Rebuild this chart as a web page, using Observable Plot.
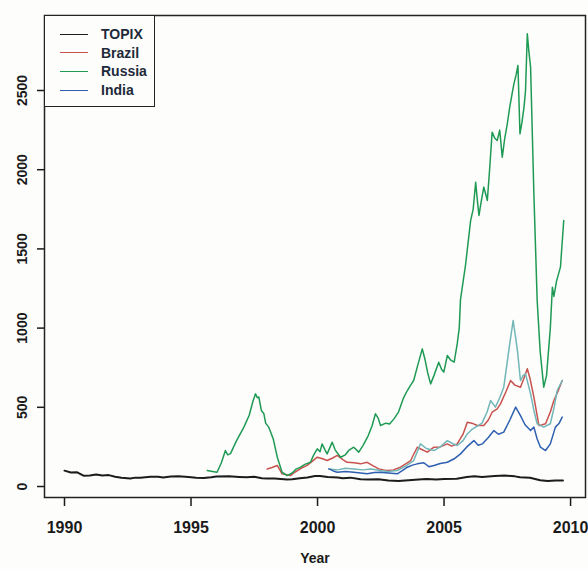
<!DOCTYPE html>
<html>
<head>
<meta charset="utf-8">
<script src="https://cdn.jsdelivr.net/npm/d3@7"></script>
<script src="https://cdn.jsdelivr.net/npm/@observablehq/plot@0.6"></script>
<style>
  html, body { margin: 0; padding: 0; background: #fdfdfb; }
  #wrap { position: relative; width: 588px; height: 569px; }
  #legend { position: absolute; left: 44px; top: 15px; width: 111px; height: 92px;
    border: 1.5px solid #222; box-sizing: border-box; background: #fdfdfb;
    font: bold 14px "Liberation Sans", Arial, sans-serif; color: #1e2a3a; }
  .item { position: absolute; left: 15px; height: 18px; display: flex; align-items: center; }
  .item .sw { width: 28px; height: 0; border-top: 1.6px solid; margin-right: 13px; }
</style>
</head>
<body>
<div id="wrap"><div id="chart"></div><div id="legend"></div></div>
<script>
// ---- data (index = 100 at start) ----
const seriesNames = ["TOPIX", "Brazil", "Russia", "India", "China"];
const legendNames = ["TOPIX", "Brazil", "Russia", "India"];
const seriesColors = ["#1c1c1c", "#c8524e", "#1f9a55", "#2e5fb0", "#72b6b8"];

const topixYears = [1990.0,1990.25,1990.5,1990.75,1991.0,1991.25,1991.5,1991.75,1992.0,1992.25,1992.6,1992.8,1993.0,1993.4,1993.7,1993.9,1994.2,1994.5,1994.9,1995.2,1995.5,1995.8,1996.0,1996.5,1996.9,1997.2,1997.5,1997.8,1998.0,1998.3,1998.8,1999.0,1999.3,1999.6,1999.9,2000.1,2000.4,2000.8,2001.0,2001.3,2001.7,2002.0,2002.4,2002.8,2003.2,2003.6,2004.0,2004.3,2004.7,2005.0,2005.5,2005.9,2006.2,2006.5,2007.0,2007.4,2007.8,2008.0,2008.4,2008.8,2009.1,2009.4,2009.7];
const topixValues = [100,88,90,68,70,76,69,72,62,55,50,56,55,62,61,57,63,65,60,56,54,58,63,64,60,58,61,52,50,50,44,46,52,57,66,67,60,57,52,56,46,44,46,38,35,40,44,47,45,47,49,60,64,60,66,70,64,58,55,40,35,38,38];

const brazilYears = [1998.01,1998.2,1998.41,1998.6,1998.93,1999.1,1999.35,1999.59,1999.8,1999.99,2000.2,2000.38,2000.6,2000.78,2001.0,2001.17,2001.45,2001.7,2001.96,2002.2,2002.42,2002.6,2002.75,2003.0,2003.28,2003.5,2003.68,2003.94,2004.1,2004.34,2004.6,2004.85,2005.13,2005.3,2005.52,2005.75,2005.92,2006.1,2006.31,2006.57,2006.75,2006.9,2007.1,2007.23,2007.45,2007.63,2007.8,2008.02,2008.15,2008.29,2008.4,2008.55,2008.75,2008.88,2009.01,2009.2,2009.34,2009.5,2009.67];
const brazilValues = [111,120,133,80,69,90,115,133,160,185,175,164,180,196,170,153,150,143,153,130,111,105,101,105,122,145,164,248,235,217,248,250,269,255,269,330,406,400,385,385,420,469,490,522,600,669,640,627,680,743,680,564,385,390,396,470,543,600,669];

const russiaYears = [1995.64,1995.85,1996.03,1996.2,1996.36,1996.45,1996.56,1996.8,1997.09,1997.3,1997.45,1997.55,1997.62,1997.68,1997.78,1997.88,1997.95,1998.07,1998.25,1998.41,1998.6,1998.8,1999.0,1999.15,1999.33,1999.5,1999.72,1999.85,1999.99,2000.1,2000.18,2000.3,2000.38,2000.5,2000.58,2000.7,2000.91,2001.1,2001.25,2001.43,2001.63,2001.8,2002.0,2002.15,2002.29,2002.4,2002.49,2002.7,2002.85,2003.02,2003.2,2003.4,2003.55,2003.68,2003.8,2003.95,2004.14,2004.25,2004.35,2004.47,2004.6,2004.79,2004.9,2004.99,2005.13,2005.25,2005.4,2005.52,2005.6,2005.65,2005.85,2006.05,2006.15,2006.25,2006.32,2006.38,2006.47,2006.57,2006.64,2006.71,2006.8,2006.9,2007.0,2007.1,2007.2,2007.3,2007.4,2007.5,2007.6,2007.76,2007.85,2007.92,2008.0,2008.08,2008.16,2008.22,2008.29,2008.35,2008.42,2008.55,2008.68,2008.8,2008.94,2009.05,2009.2,2009.28,2009.34,2009.45,2009.6,2009.73];
const russiaValues = [101,95,90,150,227,200,208,290,375,450,540,585,560,565,480,459,400,375,300,185,90,69,85,110,122,140,153,200,238,220,269,230,206,250,280,230,185,200,230,248,217,260,320,380,459,430,385,400,395,427,470,560,606,640,669,760,869,800,720,648,700,785,740,722,827,800,785,900,1000,1180,1400,1679,1750,1921,1800,1711,1800,1890,1850,1806,2000,2237,2200,2184,2250,2079,2200,2290,2400,2542,2600,2658,2227,2300,2395,2500,2858,2750,2647,1848,1174,850,627,700,1000,1258,1200,1300,1385,1679];

const indiaYears = [2000.45,2000.6,2000.78,2001.1,2001.43,2001.7,2001.96,2002.25,2002.49,2002.8,2003.15,2003.35,2003.55,2003.75,2003.94,2004.2,2004.4,2004.6,2004.85,2005.13,2005.4,2005.65,2005.9,2006.18,2006.35,2006.51,2006.75,2006.97,2007.15,2007.36,2007.6,2007.83,2008.02,2008.2,2008.42,2008.55,2008.68,2008.81,2009.01,2009.2,2009.4,2009.55,2009.67];
const indiaValues = [111,100,90,95,90,85,80,88,90,85,80,100,122,135,143,150,125,133,145,153,175,206,250,290,260,269,310,353,330,343,420,501,448,390,353,375,300,248,227,269,375,400,438];

const chinaYears = [2000.45,2000.8,2001.1,2001.43,2001.8,2002.1,2002.49,2002.8,2003.15,2003.5,2003.8,2004.07,2004.3,2004.6,2004.85,2005.13,2005.35,2005.52,2005.75,2005.92,2006.1,2006.25,2006.5,2006.7,2006.84,2007.03,2007.2,2007.36,2007.56,2007.73,2007.82,2007.9,2008.02,2008.12,2008.22,2008.42,2008.55,2008.68,2008.94,2009.2,2009.35,2009.47,2009.67];
const chinaValues = [111,105,115,111,105,110,101,95,101,130,164,269,240,227,250,290,270,259,290,332,360,375,400,470,543,501,560,627,859,1048,950,859,669,700,711,585,480,396,375,396,500,606,669];

const xTicks = [1990, 1995, 2000, 2005, 2010];
const yTicks = [0, 500, 1000, 1500, 2000, 2500];
const xLabel = "Year";

// ---- build table ----
const yearsList = [topixYears, brazilYears, russiaYears, indiaYears, chinaYears];
const valuesList = [topixValues, brazilValues, russiaValues, indiaValues, chinaValues];
const rows = [];
seriesNames.forEach((name, i) => {
  yearsList[i].forEach((yr, j) => rows.push({series: name, year: yr, value: valuesList[i][j]}));
});
const drawOrder = ["TOPIX", "Brazil", "China", "India", "Russia"];
const colorOf = Object.fromEntries(seriesNames.map((n, i) => [n, seriesColors[i]]));

const font = '"Liberation Sans", Arial, sans-serif';
const chart = Plot.plot({
  width: 588,
  height: 569,
  marginLeft: 44,
  marginRight: 3,
  marginTop: 15,
  marginBottom: 72,
  style: { background: "transparent", fontFamily: font, fontSize: "15px", fontWeight: "bold", color: "#1a1a1a" },
  x: { domain: [1989.21, 2010.59] },
  y: { domain: [-69.4, 2973.5] },
  marks: [
    Plot.axisX({ ticks: xTicks, tickFormat: d => String(d), tickSize: 9, tickPadding: 15, label: null, strokeWidth: 1.5, fontSize: 16 }),
    Plot.axisY({ ticks: yTicks, tickFormat: d => String(d), tickSize: 7, tickPadding: 11, tickRotate: -90, label: null, strokeWidth: 1.5, fontSize: 14 }),
    ...drawOrder.map(n => Plot.line(rows.filter(r => r.series === n), {
      x: "year", y: "value", stroke: colorOf[n], strokeWidth: n === "TOPIX" ? 2 : 1.5
    })),
    Plot.frame({ stroke: "#222", strokeWidth: 1.5 }),
    Plot.text([xLabel], { frameAnchor: "bottom", dy: 65, text: d => d, fontSize: 14, fontWeight: "bold", fill: "#1a1a1a" })
  ]
});
document.getElementById("chart").appendChild(chart);

// legend (inside plot area, as in the original)
const legend = document.getElementById("legend");
legendNames.forEach((n, i) => {
  const it = document.createElement("div");
  it.className = "item";
  it.style.top = (9 + i * 18.7) + "px";
  const sw = document.createElement("span");
  sw.className = "sw";
  sw.style.borderColor = colorOf[n];
  const tx = document.createElement("span");
  tx.textContent = n;
  it.appendChild(sw); it.appendChild(tx);
  legend.appendChild(it);
});
</script>
</body>
</html>
